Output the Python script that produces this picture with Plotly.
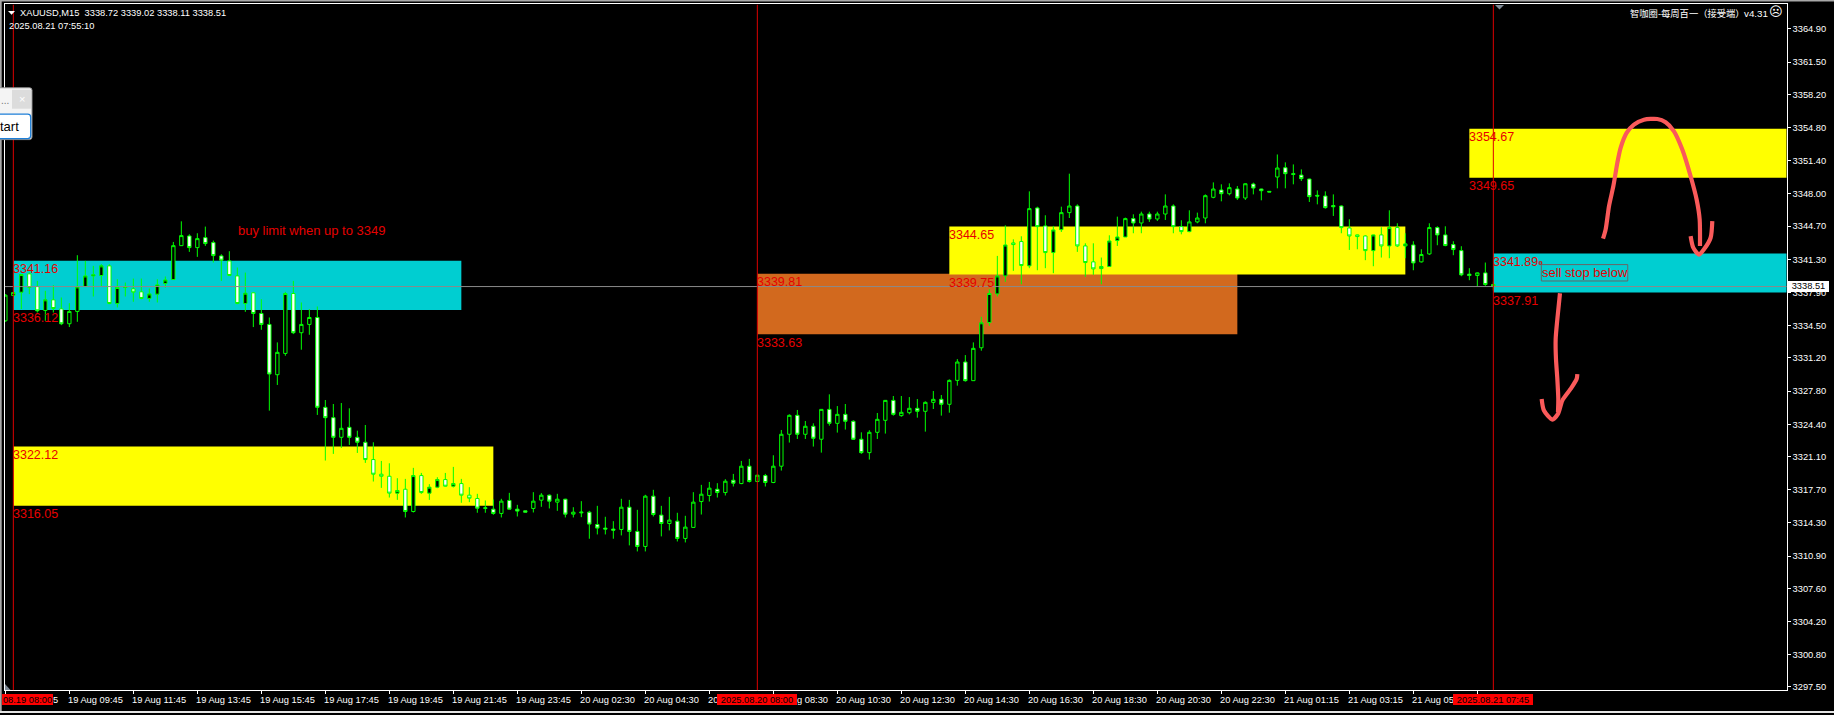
import plotly.graph_objects as go

# ---------- data ----------
first_index = -1
opens = [3335.00,3337.59,3337.93,3339.81,3338.51,3336.06,3337.15,3336.23,3334.70,3335.96,3338.51,3339.60,3339.64,3340.63,3336.77,3338.41,3338.27,3337.97,3337.29,3337.73,3338.82,3339.23,3342.70,3343.69,3342.50,3343.52,3343.01,3341.65,3341.14,3339.60,3336.77,3337.87,3335.75,3334.63,3329.48,3331.66,3337.80,3333.78,3334.63,3335.34,
 3326.14,3325.08,3323.07,3324.09,3323.07,3322.56,3320.79,3319.29,3319.08,3317.35,3317.75,3315.47,3319.15,3317.35,3317.96,3318.74,3318.06,3318.33,3317.14,3316.80,3315.78,3315.71,
 3315.27,3316.60,3315.71,3315.54,3315.78,3316.63,3317.14,3316.43,3316.73,3315.20,3315.33,3315.40,3314.14,3313.77,3313.67,3313.63,3315.91,3313.43,3311.89,3317.04,3315.10,3314.24,3314.48,3312.71,3313.84,3316.49,3317.11,3317.75,3317.41,3318.67,3318.33,3320.11,3318.54,3319.15,3318.44,3320.11,3323.38,3325.32,3323.38,3324.20,3322.87,3325.93,3324.50,3325.42,3324.71,3322.87,3321.50,3323.58,3324.81,3326.85,3325.29,3325.59,3326.04,3325.73,3326.65,3326.96,3326.45,
 3328.90,3330.78,3328.87,3332.24,3334.83,3337.76,3339.60,3342.98,3343.12,3340.63,3346.56,3344.72,3341.99,3344.34,3346.08,3346.76,3342.67,3341.04,3340.35,3340.56,3343.22,3343.59,3345.47,3345.02,3345.94,3345.43,3345.94,3346.76,3344.65,3344.14,3345.13,3345.53,3347.65,3348.40,3348.02,3348.50,3347.58,3349.01,3348.50,3348.26,3349.73,3350.68,3350.07,3349.93,3349.52,3347.85,3347.78,3346.80,3346.76,3344.51,3343.80,3343.69,3342.19,3343.80,3342.67,3344.55,3342.67,3342.77,3341.04,3341.85,3344.55,3343.80,3342.81,3342.19,3339.78,3339.64,3339.91,3338.72]
highs = [3337.73,3337.90,3339.74,3339.94,3339.09,3338.07,3338.65,3337.39,3336.81,3341.72,3341.14,3340.63,3340.80,3340.80,3339.26,3338.92,3339.33,3339.33,3338.31,3339.26,3339.54,3343.08,3345.19,3343.86,3343.97,3344.65,3343.22,3341.82,3342.13,3340.46,3339.94,3337.90,3337.22,3335.34,3332.79,3337.97,3339.09,3336.88,3336.20,3336.47,
 3326.89,3326.48,3326.58,3326.04,3323.75,3324.33,3322.56,3320.65,3320.41,3318.88,3318.81,3319.94,3319.42,3318.27,3318.98,3319.42,3320.04,3318.81,3317.96,3317.28,3316.60,3316.70,
 3316.77,3317.38,3316.15,3315.54,3317.45,3317.35,3317.21,3317.28,3316.77,3315.91,3316.53,3315.54,3316.05,3314.93,3314.48,3316.77,3316.66,3315.64,3317.18,3317.69,3316.05,3316.97,3315.34,3315.03,3317.45,3318.20,3318.50,3318.37,3318.78,3319.32,3320.65,3320.86,3319.22,3319.32,3321.23,3323.82,3325.42,3325.87,3324.74,3324.50,3325.97,3327.47,3326.27,3326.48,3324.81,3323.58,3323.79,3325.56,3326.89,3327.30,3327.30,3327.19,3326.99,3326.75,3327.81,3327.40,3329.00,
 3331.08,3331.49,3332.79,3335.41,3338.24,3341.65,3344.78,3343.35,3343.66,3348.26,3346.69,3345.81,3344.72,3346.69,3350.07,3346.93,3342.94,3342.94,3341.48,3343.76,3345.67,3345.57,3345.91,3346.18,3346.18,3346.18,3347.95,3346.93,3345.30,3346.32,3346.08,3347.95,3349.18,3348.98,3349.08,3348.81,3349.08,3349.15,3348.53,3348.26,3352.04,3351.23,3351.02,3350.51,3349.56,3348.36,3348.26,3347.95,3346.83,3345.40,3343.83,3343.76,3343.83,3344.58,3346.32,3344.99,3343.97,3343.15,3342.33,3344.99,3344.68,3344.68,3343.15,3342.64,3340.39,3339.95,3340.97,3339.02]
lows = [3334.90,3337.59,3336.20,3337.73,3335.85,3335.00,3335.85,3334.56,3334.36,3334.90,3338.51,3337.49,3338.51,3336.71,3336.37,3337.49,3336.95,3337.22,3336.95,3336.88,3338.41,3339.19,3342.67,3342.06,3341.55,3342.67,3340.97,3339.09,3339.60,3336.71,3335.92,3334.36,3334.08,3325.80,3328.43,3331.42,3333.64,3332.04,3333.57,3325.36,
 3320.69,3321.37,3321.98,3322.29,3321.47,3320.45,3318.54,3317.89,3316.90,3316.66,3314.86,3315.37,3317.28,3316.66,3317.86,3318.03,3317.93,3316.36,3316.43,3315.34,3315.34,3315.13,
 3314.86,3315.68,3314.96,3315.40,3315.37,3315.95,3315.78,3315.54,3314.86,3314.86,3314.89,3312.68,3313.12,3313.12,3312.68,3313.02,3312.00,3311.38,3311.38,3314.96,3312.92,3313.53,3312.40,3312.30,3313.84,3315.16,3316.49,3316.90,3317.11,3318.03,3318.27,3318.44,3318.54,3318.03,3318.37,3319.66,3322.53,3322.90,3322.90,3322.12,3321.50,3324.26,3323.55,3323.86,3322.80,3321.37,3320.79,3322.90,3323.45,3325.29,3325.18,3325.42,3325.08,3323.65,3325.97,3325.29,3325.59,
 3328.36,3328.77,3328.87,3331.94,3334.49,3337.49,3338.99,3340.12,3338.75,3340.39,3340.18,3340.39,3339.88,3344.10,3345.53,3342.06,3339.50,3339.71,3338.75,3340.53,3342.67,3343.59,3343.97,3343.97,3345.13,3345.23,3345.33,3343.97,3343.86,3344.07,3344.99,3344.99,3347.55,3347.24,3347.85,3347.38,3347.38,3347.95,3347.34,3348.19,3348.57,3348.57,3348.98,3349.32,3347.17,3346.93,3346.49,3345.74,3343.97,3342.26,3342.33,3341.21,3340.59,3341.48,3341.41,3342.57,3341.41,3340.18,3340.97,3341.75,3342.74,3342.64,3341.72,3339.57,3339.16,3338.51,3338.58,3338.11]
closes = [3337.63,3337.90,3339.74,3338.41,3336.03,3337.15,3336.26,3334.70,3335.96,3338.48,3339.60,3339.71,3340.63,3336.77,3338.41,3338.51,3337.93,3337.29,3337.76,3338.68,3339.19,3342.70,3343.73,3342.50,3343.42,3342.91,3341.68,3341.21,3339.64,3336.77,3337.83,3335.75,3334.63,3329.55,3331.77,3337.80,3333.78,3334.63,3335.34,3326.14,
 3325.08,3323.07,3323.99,3323.07,3322.56,3320.79,3319.29,3319.08,3317.35,3317.62,3315.47,3319.15,3317.41,3317.96,3318.74,3318.06,3318.33,3317.14,3316.83,3315.81,3315.85,3315.27,
 3316.53,3315.71,3315.51,3315.40,3316.53,3317.14,3316.53,3316.73,3315.20,3315.40,3315.40,3314.18,3313.77,3313.67,3313.56,3315.91,3313.43,3311.89,3317.04,3315.16,3314.24,3314.59,3312.71,3313.87,3316.43,3317.24,3317.86,3317.41,3318.57,3318.37,3320.11,3318.54,3319.19,3318.44,3320.11,3323.38,3325.32,3323.38,3324.20,3322.97,3325.93,3324.50,3325.42,3324.71,3322.87,3321.50,3323.58,3324.91,3326.85,3325.42,3325.63,3326.04,3325.73,3326.65,3326.96,3326.45,3328.90,
 3330.78,3328.87,3332.18,3334.80,3337.80,3339.60,3342.77,3342.81,3340.66,3346.49,3344.65,3341.99,3344.31,3346.08,3346.76,3342.67,3340.97,3340.32,3340.56,3343.18,3343.59,3345.47,3345.02,3345.94,3345.43,3345.94,3346.76,3344.65,3344.14,3345.13,3345.53,3347.82,3348.50,3348.02,3348.64,3347.58,3349.04,3348.60,3348.33,3348.19,3350.65,3350.07,3350.00,3349.56,3347.72,3347.78,3346.59,3346.69,3344.55,3343.69,3343.63,3342.19,3343.80,3342.67,3344.55,3342.67,3342.88,3340.93,3341.79,3344.55,3343.80,3342.71,3342.30,3339.71,3339.64,3339.91,3338.72,3338.51]
bar_index = [first_index + k for k in range(len(opens))]

price_ticks = [3364.90,3361.50,3358.20,3354.80,3351.40,3348.00,3344.70,3341.30,3337.90,3334.50,3331.20,3327.80,3324.40,3321.10,3317.70,3314.30,3310.90,3307.60,3304.20,3300.80,3297.50]
time_tick_index = [-1,7,15,23,31,39,47,55,63,71,79,87,95,103,111,119,127,135,143,151,159,167,175,183]
# the parts of the time labels that the red markers leave visible
time_label_index = [-1,7,15,23,31,39,47,55,63,71,79,87,95,103,111,119,127,135,143,151,159,167,175]
time_labels = ["5","19 Aug 09:45","19 Aug 11:45","19 Aug 13:45","19 Aug 15:45","19 Aug 17:45","19 Aug 19:45","19 Aug 21:45","19 Aug 23:45","20 Aug 02:30","20 Aug 04:30","20","g 08:30","20 Aug 10:30","20 Aug 12:30","20 Aug 14:30","20 Aug 16:30","20 Aug 18:30","20 Aug 20:30","20 Aug 22:30","21 Aug 01:15","21 Aug 03:15","21 Aug 05"]
time_label_shift = {-1: 47.5, 95: 23.4}
marker_index = [0, 93, 185]
marker_labels = ["08.19 08:00", "2025.08.20 08:00", "2025.08.21 07:45"]

zone_start = [0, 0, 93, 117, 182, 185]
zone_end = [56, 60, 153, 174, 221.67, 221.67]
zone_top = [3341.16, 3322.12, 3339.81, 3344.65, 3354.67, 3341.89]
zone_bottom = [3336.12, 3316.05, 3333.63, 3339.75, 3349.65, 3337.91]
zone_color = ["#00CED1", "#FFFF00", "#D2691E", "#FFFF00", "#FFFF00", "#00CED1"]

last_price = 3338.51
arc_x = [198.71,199.04,199.46,200.0,200.5,200.91,201.66,202.58,203.83,205.5,206.54,207.58,208.62,209.66,210.41,210.79,210.83]
arc_y = [3343.41,3344.37,3346.75,3348.79,3351.18,3352.71,3354.24,3355.09,3355.60,3355.67,3355.33,3354.41,3352.54,3349.81,3347.43,3345.39,3342.66]
arc_head_x = [209.66,209.99,210.71,211.33,212.16,212.37]
arc_head_y = [3343.68,3342.49,3341.78,3342.32,3343.51,3345.22]
drop_x = [193.33,193.0,192.79,192.83,193.0,193.12,193.08]
drop_y = [3337.83,3335.17,3333.13,3331.09,3329.04,3327.0,3325.64]
drop_head_x = [191.04,191.33,192.37,193.08,193.62,194.66,195.41,195.5]
drop_head_y = [3327.0,3325.81,3324.89,3325.47,3326.83,3328.02,3329.04,3329.55]

# ---------- page geometry ----------
W, H = 1834, 715
L, R, T, B = 4.7, 1786.7, 4.5, 692.3
XR = [-1.08, 221.67]
YR = [3297.15, 3367.40]
px = lambda x: x / W
py = lambda y: 1 - y / H
RED = "#e60000"
SANS = "Liberation Sans, Noto Sans CJK SC"

def rrect(x0, y0, x1, y1, r):
    return (f"M {px(x0+r)} {py(y0)} L {px(x1-r)} {py(y0)} Q {px(x1)} {py(y0)} {px(x1)} {py(y0+r)} "
            f"L {px(x1)} {py(y1-r)} Q {px(x1)} {py(y1)} {px(x1-r)} {py(y1)} L {px(x0+r)} {py(y1)} "
            f"Q {px(x0)} {py(y1)} {px(x0)} {py(y1-r)} L {px(x0)} {py(y0+r)} Q {px(x0)} {py(y0)} {px(x0+r)} {py(y0)} Z")

def tri(points):
    return "M " + " L ".join(f"{px(a)} {py(b)}" for a, b in points) + " Z"

shapes, notes = [], []

def screen_text(text, x, y, size=9.3, color="white", anchor="left", family=SANS, **kw):
    notes.append(dict(text=text, x=px(x), y=py(y), xref="paper", yref="paper", xanchor=anchor, yanchor="middle",
                      showarrow=False, borderpad=0, borderwidth=0, font=dict(family=family, size=size, color=color), **kw))

# zones sit under the candles
for s, e, t, b, c in zip(zone_start, zone_end, zone_top, zone_bottom, zone_color):
    shapes.append(dict(type="rect", xref="x", yref="y", x0=s, x1=e, y0=b, y1=t, fillcolor=c, line_width=0, layer="below"))
    for p in (t, b):
        notes.append(dict(text=f"{p:.2f}", x=s, y=p, xref="x", yref="y", xanchor="left", yanchor="middle", yshift=-8.5,
                          showarrow=False, borderpad=0, borderwidth=0, font=dict(family=SANS, size=12.5, color=RED)))

# last price and time markers
shapes.append(dict(type="line", xref="x", yref="y", x0=XR[0], x1=XR[1], y0=last_price, y1=last_price, line=dict(color="#8a8a8a", width=1), layer="above"))
for m in marker_index:
    shapes.append(dict(type="line", xref="x", yref="y", x0=m, x1=m, y0=YR[0], y1=YR[1], line=dict(color="#dd0000", width=1), layer="above"))

# sell stop box
shapes.append(dict(type="rect", xref="x", yref="y", x0=191, x1=201.8, y0=3339.08, y1=3340.76, line=dict(color="#666666", width=1), layer="above"))
notes.append(dict(text="sell stop below", x=196.4, y=3339.92, xref="x", yref="y", showarrow=False, borderpad=0, borderwidth=0,
                  font=dict(family=SANS, size=13, color=RED)))
notes.append(dict(text="buy limit when up to 3349", x=28.1, y=3344.29, xref="x", yref="y", xanchor="left", showarrow=False,
                  borderpad=0, borderwidth=0, font=dict(family=SANS, size=13, color="#e60000")))

# time labels, then the red markers
for t, lab in zip(time_label_index, time_labels):
    notes.append(dict(text=lab, x=t, y=py(701.8), xref="x", yref="paper", xanchor="left", yanchor="middle", xshift=time_label_shift.get(t, -1),
                      showarrow=False, borderpad=0, borderwidth=0, font=dict(family=SANS, size=9.3, color="white")))
for t, lab in zip(marker_index, marker_labels):
    is_first = t == 0
    notes.append(dict(text=lab, x=t, y=py(701.7), xref="x", yref="paper", xanchor="center", yanchor="middle",
                      width=51 if is_first else 80, height=11, align="center", xshift=14 if is_first else 0,
                      bgcolor="#ff0000", showarrow=False, borderpad=0, borderwidth=0, font=dict(family=SANS, size=9.3, color="#000000")))

# price box
screen_text("3338.51", 1788.3, 287.5, color="#000000", bgcolor="#ffffff", width=41, height=10.5, align="center")

# headers
screen_text("XAUUSD,M15  3338.72 3339.02 3338.11 3338.51", 19.7, 12.7)
screen_text("2025.08.21 07:55:10", 9.3, 25.7)
screen_text("智咖圈-每周百一（接受端）", 1745, 13.8, anchor="right")
screen_text("v4.31", 1767.5, 13.8, anchor="right", size=9.8)
screen_text("☹", 1775.6, 11.5, size=13, anchor="center", family="DejaVu Sans")
shapes.append(dict(type="path", xref="paper", yref="paper", path=tri([(8, 11), (15, 11), (11.6, 14.7)]), fillcolor="white", line_width=0))
shapes.append(dict(type="path", xref="paper", yref="paper", path=tri([(1495, 5), (1504, 5), (1499.5, 9.5)]), fillcolor="#7f8a96", line_width=0))
shapes.append(dict(type="path", xref="paper", yref="paper", path=tri([(5, 686), (5, 692), (10.5, 692)]), fillcolor="#7f8a96", line_width=0))

# window edges
for x0, y0, x1, y1, c in [(0, 0, W, 1.5, "#a8a8a8"), (0, 0, 1.7, H, "#a8a8a8"), (0, 713, W, H, "#e4e4e4")]:
    shapes.append(dict(type="rect", xref="paper", yref="paper", x0=px(x0), x1=px(x1), y0=py(y0), y1=py(y1), fillcolor=c, line_width=0, layer="above"))

# small dialog at the left edge
shapes.append(dict(type="path", xref="paper", yref="paper", path=rrect(-6, 88, 32, 140, 2.5), fillcolor="#f4f4f4", line=dict(color="#8c8c8c", width=1), layer="above"))
shapes.append(dict(type="rect", xref="paper", yref="paper", x0=px(12), x1=px(31), y0=py(90), y1=py(109), fillcolor="#dcdcdc", line_width=0, layer="above"))
shapes.append(dict(type="path", xref="paper", yref="paper", path=rrect(-6, 114.5, 30.7, 139, 3), fillcolor="#ffffff", line=dict(color="#1e7fd8", width=1.3), layer="above"))
screen_text("...", 1, 101, color="#777777", size=10)
screen_text("×", 21.7, 99.5, color="#ffffff", size=11, anchor="center")
screen_text("tart", 0, 126.5, color="#000000", size=13)

fig = go.Figure()
fig.add_trace(go.Candlestick(
    x=bar_index, open=opens, high=highs, low=lows, close=closes, whiskerwidth=0,
    increasing=dict(line=dict(color="#00ff00", width=1), fillcolor="#000000"),
    decreasing=dict(line=dict(color="#00ff00", width=1), fillcolor="#ffffff"),
    showlegend=False, hoverinfo="skip"))
for xs, ys in [(arc_x, arc_y), (arc_head_x, arc_head_y), (drop_x, drop_y), (drop_head_x, drop_head_y)]:
    fig.add_trace(go.Scatter(x=xs, y=ys, mode="lines", line=dict(color="#fa5a5a", width=4.2, shape="spline", smoothing=0.7),
                             showlegend=False, hoverinfo="skip"))
fig.add_trace(go.Scatter(x=[190.88], y=[3340.92], mode="markers", marker=dict(symbol="square-open", size=2.5, color=RED, line=dict(width=1, color=RED)),
                         showlegend=False, hoverinfo="skip"))

fig.update_layout(
    width=W, height=H, margin=dict(l=0, r=0, t=0, b=0), autosize=False,
    paper_bgcolor="#000000", plot_bgcolor="#000000", showlegend=False, boxgap=0.4,
    shapes=shapes, annotations=notes,
    font=dict(family=SANS, size=9.3, color="white"),
    xaxis=dict(domain=[px(L), px(R)], range=XR, rangeslider=dict(visible=False), showgrid=False, zeroline=False,
               tickmode="array", tickvals=time_tick_index, showticklabels=False, ticks="outside", ticklen=3, tickwidth=1, tickcolor="white",
               showline=True, linecolor="white", linewidth=1, mirror=True),
    yaxis=dict(domain=[py(B), py(T)], range=YR, side="right", showgrid=False, zeroline=False,
               tickmode="array", tickvals=price_ticks, ticktext=[f"{p:.2f}" for p in price_ticks], ticks="outside", ticklen=3, tickwidth=1, tickcolor="white",
               showline=True, linecolor="white", linewidth=1, mirror=True,
               tickfont=dict(family=SANS, size=9.3, color="white")),
)
fig.write_html("out.html", config={"displayModeBar": False},
               post_script="document.body.style.margin='0';document.body.style.background='#000';")
